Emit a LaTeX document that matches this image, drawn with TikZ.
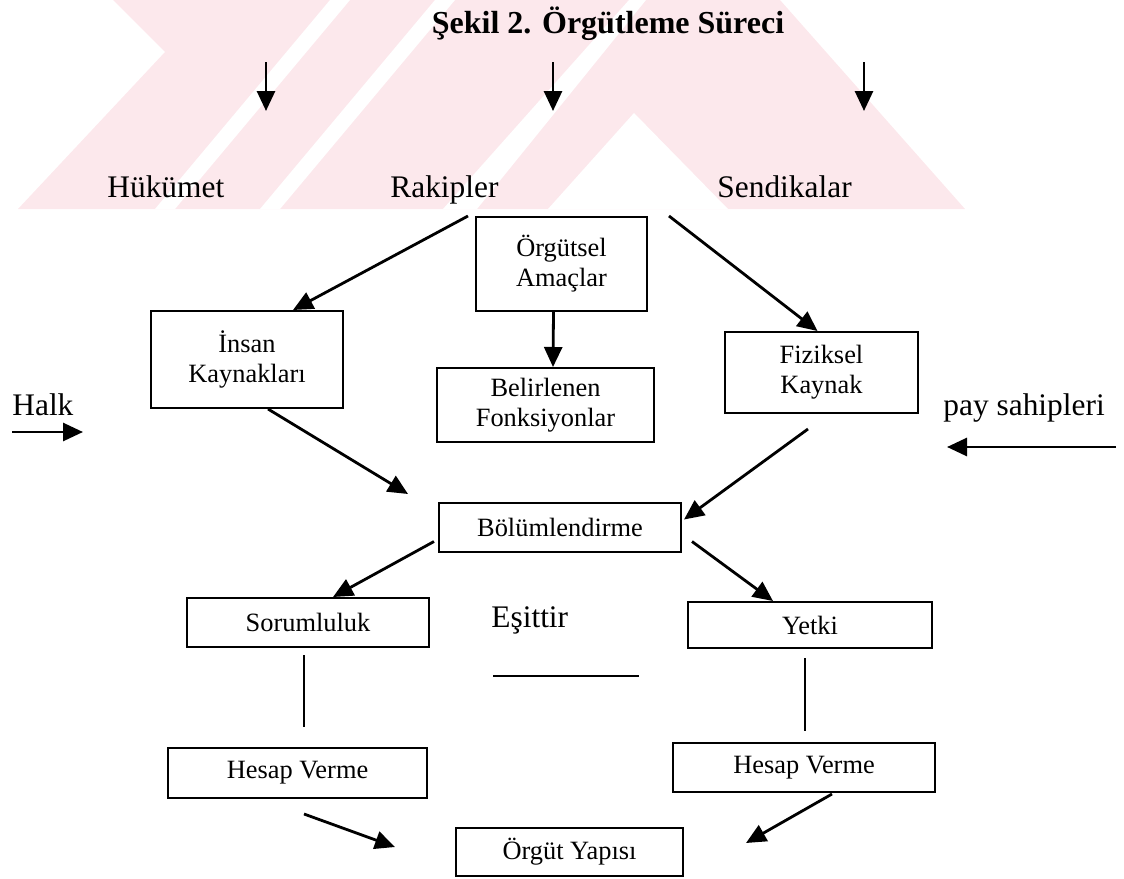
\documentclass[tikz,border=0pt]{standalone}
\usepackage{fontspec}
\setmainfont{Liberation Serif}
\usetikzlibrary{arrows.meta,calc}
\definecolor{wmark}{HTML}{FCE8EC}

\begin{document}
\begin{tikzpicture}[x=0.5pt,y=-0.5pt,
    box/.style={draw,line width=1pt,inner sep=2pt,align=center,
        font=\fontsize{13.2}{15}\selectfont},
    lbl/.style={anchor=base west,inner sep=0pt,font=\fontsize{15.7}{18}\selectfont},
    link/.style={-{Triangle[length=10pt,width=9pt]},line width=1.4pt},
    plain/.style={line width=1pt}]
    \useasboundingbox (0,0) rectangle (1124,878);
    \begin{scope}
        \clip (0,0) rectangle (1124,209);
        \fill[wmark] (113,0)--(165,52)--(18,209)--(965,209)--(780,0)--cycle;
        \fill[white] (155,209)--(175,209)--(350,0)--(330,0)--cycle;
        \fill[white] (260,209)--(280,209)--(455,0)--(435,0)--cycle;
        \fill[white] (443,209)--(477,209)--(646,0)--(629,0)--cycle;
        \fill[white] (634,113)--(548,209)--(728,209)--cycle;
    \end{scope}
    \node[anchor=base,inner sep=0pt,font=\fontsize{16}{18}\selectfont\bfseries](title)
        at(608,33){Şekil 2. Örgütleme Süreci};
    \foreach \x[count=\i] in {266,553,864}{
        \coordinate(top\i)at(\x,62);\coordinate(tip\i)at(\x,111);
        \draw[link](top\i)--(tip\i);}
    \node[lbl](huk)at(107,197){Hükümet};
    \node[lbl](rakip)at(390,197){Rakipler};
    \node[lbl](sendika)at(717,197){Sendikalar};
    \node[lbl](halk)at(12,415){Halk};
    \node[lbl](pay)at(943,415){pay sahipleri};
    \node[lbl](esit)at(491,627){Eşittir};
    \node[box,minimum width=85.5pt,minimum height=47pt](amac)at(561.5,264){Örgütsel\\Amaçlar};
    \node[box,minimum width=96pt,minimum height=48.5pt](insan)at(247,359.5){İnsan\\Kaynakları};
    \node[box,minimum width=108.5pt,minimum height=37pt](fonk)at(545.5,405){Belirlenen\\Fonksiyonlar};
    \node[box,minimum width=96.5pt,minimum height=40.5pt](fizik)at(821.5,372.5){Fiziksel\\Kaynak};
    \node[box,minimum width=121pt,minimum height=24.5pt](bolum)at(560,527.5){Bölümlendirme};
    \node[box,minimum width=121pt,minimum height=24.5pt](sorum)at(308,622.5){Sorumluluk};
    \node[box,minimum width=122pt,minimum height=23pt](yetki)at(810,625){Yetki};
    \node[box,minimum width=129.5pt,minimum height=25pt](hesapA)at(297.5,773){Hesap Verme};
    \node[box,minimum width=131pt,minimum height=24.5pt](hesapB)at(804,767.5){Hesap Verme};
    \node[box,minimum width=113.5pt,minimum height=24pt](yapi)at(569.5,852){Örgüt Yapısı};
    \coordinate(halkS)at(12,432);\coordinate(halkE)at(83,432);
    \coordinate(payS)at(1116,447);\coordinate(payE)at(947,447);
    \coordinate(eqL)at(493,676);\coordinate(eqR)at(639,676);
    \draw[link](halkS)--(halkE);
    \draw[link](payS)--(payE);
    \draw[plain](eqL)--(eqR);
    \draw[link]($(amac.north west)+(-7,0)$)--($(insan.north)+(46,0)$);
    \draw[link]($(amac.north east)+(21,0)$)--($(fizik.north)+(-4,0)$);
    \draw[link]($(amac.south)+(-8,0)$)--($(fonk.north)+(7.5,0)$);
    \draw[link]($(insan.south)+(21,0)$)--($(bolum.north west)+(-30,-8)$);
    \draw[link]($(fizik.south)+(-13.5,15)$)--($(bolum.east)+(2,-8)$);
    \draw[link]($(bolum.west)+(-4,14)$)--($(sorum.north)+(25,0)$);
    \draw[link]($(bolum.east)+(10,14)$)--($(yetki.north)+(-37,0)$);
    \draw[plain]($(sorum.south)+(-4,7)$)--($(hesapA.north)+(6.5,-20)$);
    \draw[plain]($(yetki.south)+(-5,9)$)--($(hesapB.north)+(1,-11)$);
    \draw[link]($(hesapA.south)+(6.5,15)$)--($(yapi.west)+(-60,-5)$);
    \draw[link]($(hesapB.south)+(28,1)$)--($(yapi.east)+(62,-9)$);
\end{tikzpicture}
\end{document}
